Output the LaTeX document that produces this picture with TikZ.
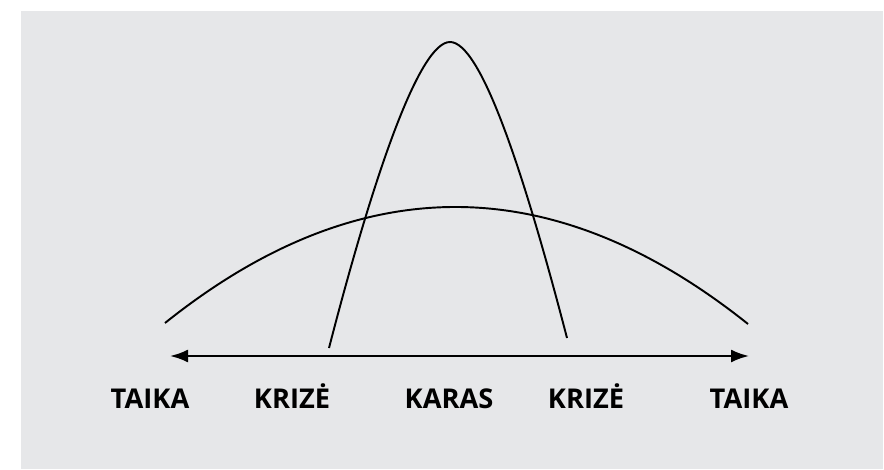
\documentclass[tikz,border=0pt]{standalone}
\usepackage{fontspec}
\setmainfont{Open Sans}
\usepackage{tikz}
\usetikzlibrary{arrows.meta}
\definecolor{panelgray}{RGB}{230,231,233}

\begin{document}
\begin{tikzpicture}[x=0.02cm,y=-0.02cm,
    lbl/.style={font=\fontsize{15.5}{18}\selectfont\bfseries,inner sep=0pt,anchor=base},
    curve/.style={line width=1.1pt}]
  \useasboundingbox (0,0) rectangle (884,469);
  % background panel
  \fill[panelgray] (21,11) rectangle (883,469);
  % wide arc
  \draw[curve] (165,323) .. controls (358.7,168) and (553,168.3) .. (748,324);
  % narrow peak
  \draw[curve] (329,348) .. controls (375,170) and (420,42) .. (450,42)
        .. controls (480,42) and (522,165) .. (567,338);
  % axis
  \coordinate (axl) at (170,356);
  \coordinate (axr) at (749,356);
  \draw[line width=1.3pt,{Latex[length=0.36cm,width=0.26cm]}-{Latex[length=0.36cm,width=0.26cm]}] (axl) -- (axr);
  % labels
  \node[lbl] (taikaL) at (150,408) {TAIKA};
  \node[lbl] (krizeL) at (292,408) {KRIZĖ};
  \node[lbl] (karas)  at (449,408) {KARAS};
  \node[lbl] (krizeR) at (586,408) {KRIZĖ};
  \node[lbl] (taikaR) at (749,408) {TAIKA};
\end{tikzpicture}
\end{document}
